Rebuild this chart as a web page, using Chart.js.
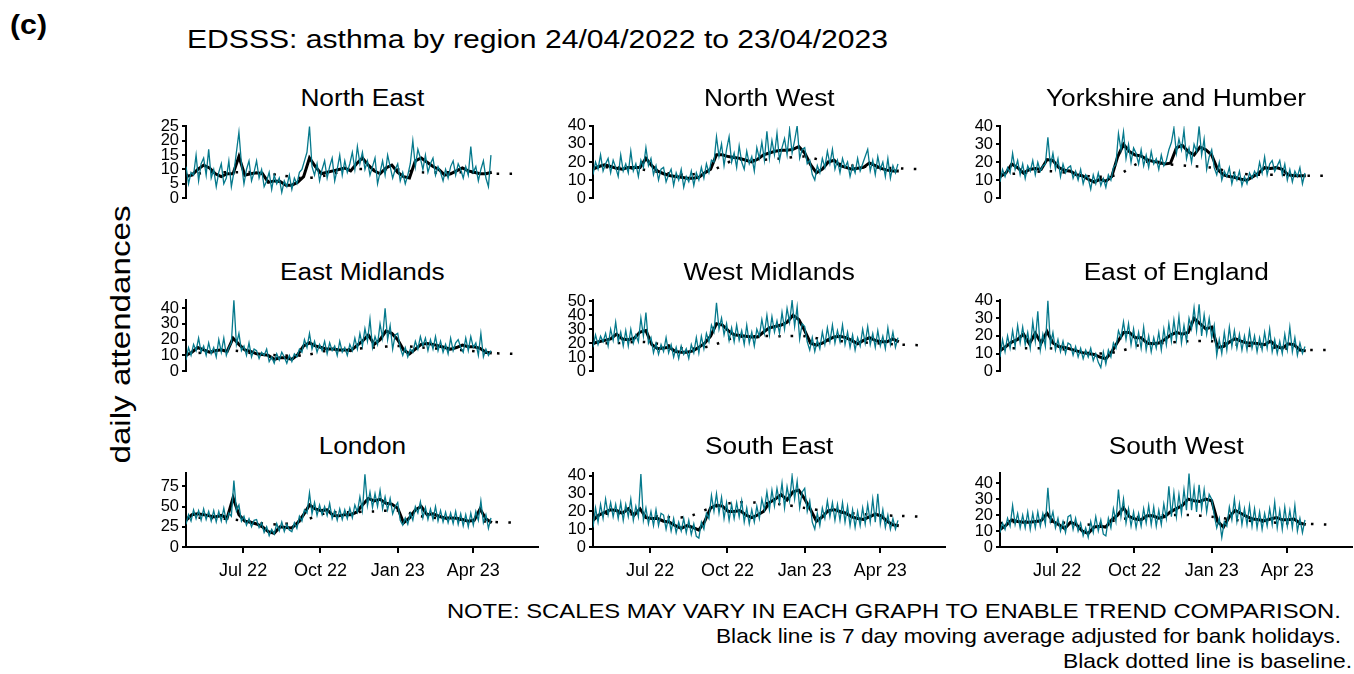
<!DOCTYPE html>
<html>
<head>
<meta charset="utf-8">
<title>EDSSS asthma by region</title>
<script src="https://cdn.jsdelivr.net/npm/chart.js@4.4.0/dist/chart.umd.min.js"></script>
<style>
  body { margin: 0; background: #fff; }
  #page { position: relative; width: 1354px; height: 674px; overflow: hidden;
          font-family: "Liberation Sans", Arial, sans-serif; color: #000; }
  #page canvas { position: absolute; }
  .txt { position: absolute; white-space: nowrap; line-height: 1; }
</style>
</head>
<body>
<div id="page"></div>
<script>
// regions, in reading order of the 3x3 grid
const REGIONS = ['North East', 'North West', 'Yorkshire and Humber',
                 'East Midlands', 'West Midlands', 'East of England',
                 'London', 'South East', 'South West'];

// x axis is days since 24/04/2022
const TICK_DAYS = [68, 160, 252, 342];
const TICK_LABELS = ['Jul 22', 'Oct 22', 'Jan 23', 'Apr 23'];
const TEAL_STEP = 3;   // daily counts, read every 3rd day
const MA_STEP = 7;     // 7 day moving average, read weekly
const BASE_STEP = 28;  // baseline, read every 4 weeks

const Y_MAX = [25.2, 40, 40.3, 45.3, 51, 40.5, 91.6, 41.7, 46.4];
const Y_STEP = [5, 10, 10, 10, 10, 10, 25, 10, 10];

// daily attendances
const tealNE = [11,5,9,8,15,6,12,14,8,17,7,10,4,9,
  12,5,7,13,4,9,16,23,12,5,10,13,6,9,
  13,7,10,4,6,9,3,8,5,7,2,6,4,8,
  3,7,5,9,10,13,16,25,11,8,12,6,10,13,
  7,11,14,6,10,15,8,13,9,12,16,10,18,12,
  16,10,13,8,11,14,5,9,13,8,15,11,7,10,
  12,6,9,5,8,12,20,11,17,14,10,15,9,12,
  14,8,11,9,6,10,7,11,13,8,12,10,7,11,
  8,18,9,11,6,10,13,7,4,15];
const tealNW = [13,20,16,24,15,19,22,14,21,17,12,24,15,19,
  14,26,15,19,12,21,17,28,18,22,13,18,10,16,
  17,9,13,16,7,14,10,16,6,12,9,15,7,14,
  10,17,11,19,14,21,20,34,23,30,18,27,34,20,
  25,17,29,20,16,26,19,23,15,28,22,31,21,37,
  22,32,24,36,21,28,33,24,38,25,32,40,22,27,
  28,19,21,13,10,18,14,22,17,26,19,27,16,21,
  14,22,17,20,12,18,14,22,15,19,23,27,15,21,
  13,23,16,20,12,22,11,18,14,19];
const tealYH = [9,16,12,17,14,25,16,21,13,19,11,18,15,21,
  13,20,15,18,19,34,18,25,16,22,12,19,14,17,
  18,11,15,10,16,8,13,11,5,13,8,14,7,11,
  6,13,10,17,19,36,27,37,22,30,20,28,25,19,
  27,18,24,17,26,19,22,16,24,18,21,27,31,39,
  25,33,27,38,22,28,20,30,26,40,24,33,16,23,
  27,17,13,20,10,15,12,17,8,14,10,15,7,12,
  8,14,11,15,12,20,14,23,13,19,21,15,18,21,
  13,19,10,16,9,15,12,17,8,14];
const tealEM = [7,15,10,17,13,21,12,16,10,18,11,15,9,20,
  12,21,10,15,18,45,17,24,13,16,10,18,9,14,
  13,8,12,10,14,6,9,5,11,7,12,9,5,10,
  6,11,9,14,12,20,15,24,14,19,12,17,13,19,
  11,18,13,16,10,19,12,15,10,17,13,21,14,24,
  16,27,19,33,15,22,17,30,21,40,20,29,14,23,
  24,15,10,15,9,14,12,19,14,22,16,21,13,20,
  14,22,13,19,12,17,11,21,13,18,20,15,12,21,
  13,22,15,18,10,24,9,14,10,13];
const tealWM = [17,26,19,25,21,27,18,30,22,35,21,28,18,29,
  18,30,20,26,21,38,25,42,20,24,13,20,12,19,
  14,24,13,19,10,17,9,18,12,16,9,19,13,24,
  13,25,16,27,21,33,28,49,30,38,26,34,22,31,
  21,33,22,29,19,33,20,28,18,30,25,37,27,40,
  26,39,28,36,27,42,30,45,35,50.5,32,46,23,34,
  32,21,15,24,14,22,16,28,19,31,21,33,20,29,
  21,33,19,28,17,26,15,24,18,30,20,32,19,27,
  17,29,18,25,16,31,19,28,17,24];
const tealEE = [8,18,11,20,13,23,14,26,16,25,15,22,13,28,
  17,34,12,21,14,40,15,22,12,18,11,17,10,16,
  15,9,14,8,13,7,12,8,13,6,10,5,2,11,
  4,12,8,16,13,23,19,28,18,27,15,24,14,22,
  13,25,12,20,11,19,13,22,12,24,15,27,17,29,
  18,31,16,26,17,30,24,36,23,38,20,32,21,30,
  19,26,9,18,10,22,12,25,14,23,13,21,12,20,
  12,23,13,20,11,19,12,22,13,24,11,18,10,17,
  10,21,12,25,11,19,9,16,10,14];
const tealLO = [28,40,32,46,35,45,33,47,34,44,32,45,31,44,
  32,48,31,42,38,82,45,52,32,38,27,35,25,33,
  34,24,30,18,25,14,22,16,29,20,31,19,28,21,
  19,30,23,38,32,46,42,67,41,55,39,52,40,50,
  39,54,35,45,33,47,34,46,35,48,36,52,43,62,
  45,90,51,68,49,66,50,70,47,62,46,60,41,50,
  55,33,27,36,28,42,33,50,42,56,36,49,34,47,
  34,50,32,45,31,43,30,42,29,44,28,41,26,40,
  25,42,27,44,33,57,30,40,23,36];
const tealSE = [11,22,14,24,16,27,18,25,17,24,16,25,15,24,
  17,27,15,23,17,41,15,22,13,20,12,21,12,19,
  18,10,17,9,16,8,14,9,16,8,15,7,13,6,
  5,14,10,19,16,29,20,30,19,28,16,25,15,24,
  16,25,17,26,14,22,13,21,14,23,16,27,21,31,
  21,32,23,33,25,36,22,34,26,40,27,37,22,31,
  33,20,26,14,10,19,12,22,16,26,17,25,15,24,
  15,25,14,23,12,21,11,20,12,22,13,24,14,27,
  14,30,13,21,11,18,10,16,10,15];
const tealSW = [9,15,11,18,13,26,14,21,12,20,12,22,11,21,
  12,22,13,21,14,37,16,22,12,18,10,16,9,19,
  20,11,18,10,15,7,12,6,16,9,19,10,17,8,
  7,18,12,24,16,36,19,30,15,24,13,22,12,21,
  13,24,15,26,14,25,13,23,14,27,18,38,19,34,
  19,33,21,36,23,46,23,37,22,39,24,36,22,33,
  30,20,12,18,6,16,13,25,17,30,16,27,14,24,
  14,26,13,24,12,22,11,21,13,24,14,28,12,23,
  11,25,13,23,12,26,10,18,9,17];

// 7 day moving average
const maNE = [7.5,8,10,11.5,10.5,8.5,7.5,8.5,8.5,14.5,8,8.5,8.8,8.5,5.5,6,5.8,4.5,4.5,5.5,7.5,14,11,8.5,9,9.5,10,10.5,9.5,12,14,11.5,9.5,8.5,10.5,11.5,9,7.5,7,13,14,12.5,11,10,8,8.5,9.5,10.5,9.5,9,8.5,8.5,9];
const maNW = [16,17.5,18.5,17.5,16.5,16,17,17,17,22,18,15,13.5,12.5,12,11.5,11,11,11.5,14,16,24,24,23,22.5,22,21,20,21.5,24,25,26,26.5,26.5,27,28.5,25,18.5,14,16,20,21,18,17,16,16.5,17,19.5,18,16.5,15.5,15,15];
const maYH = [12,14,19,17,14,16,16.5,16,21.5,21,17,15.5,15,13,12.5,10.5,9,10.5,9.5,12,23,30,26,24,23.5,21.5,20.5,20,19,19.5,28,29.5,26,24,28.5,27,24,16,13,12,11.5,10.5,10,12,14,17,16.5,17,16,13,12.5,12.5,12.5];
const maEM = [10,12,15,13.5,12,13,13.5,12.5,21,17,13.5,12.5,11,10.5,10,7.5,8.5,8.5,7.5,10.5,16,18,16,15,14,14,13.5,13.5,13,16,19,23,17,20,25.5,24,20,13.5,11,14,17,17.5,17,16,15,14,15,16.5,15.5,15.5,14.5,12,11.5];
const maWM = [20,21,22,23,26.5,23,22.5,23.5,28,29,19,16,16.5,17,14,13.5,13.5,14.5,17,20,25,34,33,29,26,25.5,25,24.5,24.5,28,31,32,33,35,40,37,29,20,18.5,20,22.5,24.5,25,24,22,19.5,22,24,22,21,21,23,21];
const maEE = [11.5,14,16.5,18,21,15.5,21.5,16,22.5,16,14,13.5,12.5,11.5,10.5,10,9.5,8,7,11,16.5,22,22,19,19,16,15.5,16,18,20.5,22,21,22,30,27,24,25,13.5,14,16.5,18.5,17,16,16,15.5,15,17,14,13,15.5,15,12,11.5];
const maLO = [33,40,41,40,38.5,37,39,36,61,40,32,30.5,28.5,25,19,17,25,24,23.5,30,40,52,47,45,46,39,38.5,40,40,43,52,60,57,59,54,53,48,30,36,46,50,40,41,38,36,36,35.5,34,32,33,47,35,30];
const maSE = [15,18,19.5,21,20.5,19,21.5,18,21.5,16.5,16,16,14.5,14,12,10.5,12,11,9.5,14.5,22,23.5,23,20,20,20.5,18,16.5,18,20,25,27,29.5,26.5,31,32,27,21,14.5,17,20.5,21,20,19,17,16,15.5,17,18.5,17.5,14.5,12.5,12];
const maSW = [11,13.5,17,16,15.5,15.5,16,16.5,21,16,14,11.5,15.5,14,10,8.5,12.5,13,12.5,17,20,24.5,19,17.5,17,19.5,19.5,18,19,22,24,26,30,29,28.5,30,29,16,12.5,19,23,21,19,17.5,17,16.5,17.5,18.5,17,17,17.5,15,14];

// baseline (runs a little past the data)
const baseNE = [8,9,9,9,8,7,8,10,10,10,9,9,9,8.5,8.5];
const baseNW = [17,17,16,14,13,15,21,21,22,23,20,18,17,16.5,16];
const baseYH = [13,14,15,14,12,13,20,19,18,17,14,13,13,12.5,12.5];
const baseEM = [11,12,13,11,10,10,13,14,15,16,15,14,13,11.5,11];
const baseWM = [20,20,21,19,16,18,24,25,25,25,22,21,20,19,18.5];
const baseEE = [13,13,13,12,10,11,15,16,17,17,15,14,13,12,12];
const baseLO = [36,36,34,30,28,33,42,43,44,45,38,35,33,31,30];
const baseSE = [18,19,18,17,17,22,25,25,24,22,20,19,18,17.5,17];
const baseSW = [15,16,16,15,14,17,19,20,20,19,17,16,15,14.5,14];

const TEAL = [tealNE, tealNW, tealYH, tealEM, tealWM, tealEE, tealLO, tealSE, tealSW];
const MA = [maNE, maNW, maYH, maEM, maWM, maEE, maLO, maSE, maSW];
const BASE = [baseNE, baseNW, baseYH, baseEM, baseWM, baseEE, baseLO, baseSE, baseSW];

// layout
const COL_X = [186, 593, 1000];
const ROW_TOP = [123, 297, 470];
const ROW_H = [78, 77, 77];
const TITLE_BASE = [106.7, 280, 454];
const PLOT_W = 352;
const X_MAX = 419;
const Y_AXIS_W = 60;
const PAD = 10;
const FONT = '"Liberation Sans", Arial, sans-serif';
const TEAL_COLOR = '#05798c';

const page = document.getElementById('page');

function addText(str, o) {
  const el = document.createElement('div');
  el.className = 'txt';
  el.textContent = str;
  el.style.fontSize = o.size + 'px';
  if (o.bold) el.style.fontWeight = 'bold';
  page.appendChild(el);
  const w = el.getBoundingClientRect().width;
  const sx = o.width ? o.width / w : (o.sx || 1);
  if (o.rotate) {
    el.style.left = (o.x - w / 2) + 'px';
    el.style.top = (o.y - o.size / 2) + 'px';
    el.style.transformOrigin = 'center center';
    el.style.transform = 'rotate(-90deg) scaleX(' + sx + ')';
    return;
  }
  el.style.top = (o.baseline - 0.8465 * o.size) + 'px';
  if (o.align === 'right') {
    el.style.left = (o.x - w) + 'px';
    el.style.transformOrigin = 'right center';
  } else if (o.align === 'center') {
    el.style.left = (o.x - w / 2) + 'px';
    el.style.transformOrigin = 'center center';
  } else {
    el.style.left = o.x + 'px';
    el.style.transformOrigin = 'left center';
  }
  el.style.transform = 'scaleX(' + sx + ')';
}

function makePanel(i) {
  const col = i % 3, row = Math.floor(i / 3);
  const bottom = row === 2;
  const xh = bottom ? 45 : 0;
  const padB = bottom ? 0 : PAD;
  const cv = document.createElement('canvas');
  cv.width = Y_AXIS_W + PLOT_W + PAD;
  cv.height = PAD + ROW_H[row] + xh + padB;
  cv.style.left = (COL_X[col] - Y_AXIS_W) + 'px';
  cv.style.top = (ROW_TOP[row] - PAD) + 'px';
  page.appendChild(cv);

  new Chart(cv, {
    type: 'line',
    data: {
      datasets: [
        {
          data: TEAL[i].map((v, k) => ({ x: k * TEAL_STEP, y: v })),
          borderColor: TEAL_COLOR, borderWidth: 1.3,
          pointRadius: 0, tension: 0, fill: false
        },
        {
          data: BASE[i].map((v, k) => ({ x: k * BASE_STEP, y: v })),
          borderColor: '#000', borderWidth: 2.5, borderDash: [2.5, 10],
          borderCapStyle: 'butt', pointRadius: 0, tension: 0.3, fill: false
        },
        {
          data: MA[i].map((v, k) => ({ x: k * MA_STEP, y: v })),
          borderColor: '#000', borderWidth: 3,
          pointRadius: 0, tension: 0, fill: false
        }
      ]
    },
    options: {
      responsive: false,
      animation: false,
      events: [],
      layout: { padding: { left: 0, right: PAD, top: PAD, bottom: padB } },
      plugins: { legend: { display: false }, tooltip: { enabled: false } },
      scales: {
        x: {
          type: 'linear', min: 0, max: X_MAX, display: bottom,
          afterBuildTicks: s => { s.ticks = TICK_DAYS.map(v => ({ value: v })); },
          afterFit: s => { s.height = xh; },
          ticks: {
            autoSkip: false, maxRotation: 0, color: '#000', padding: 7,
            font: { family: FONT, size: 18 },
            callback: v => TICK_LABELS[TICK_DAYS.indexOf(v)]
          },
          grid: { drawOnChartArea: false, tickLength: 6, color: '#000', lineWidth: 2 },
          border: { color: '#000', width: 2 }
        },
        y: {
          min: 0, max: Y_MAX[i],
          afterBuildTicks: s => {
            const t = [];
            for (let v = 0; v <= Y_MAX[i] + 1e-9; v += Y_STEP[i]) t.push({ value: v });
            s.ticks = t;
          },
          afterFit: s => { s.width = Y_AXIS_W; },
          ticks: { autoSkip: false, color: '#000', padding: 3, font: { family: FONT, size: 16.5 } },
          grid: { drawOnChartArea: false, tickLength: 4, color: '#000', lineWidth: 2 },
          border: { color: '#000', width: 2 }
        }
      }
    }
  });

  addText(REGIONS[i], { x: COL_X[col] + PLOT_W / 2, baseline: TITLE_BASE[row], size: 23, sx: 1.14, align: 'center' });
}

addText('(c)', { x: 10, baseline: 34.5, size: 27, bold: true, width: 37 });
addText('EDSSS: asthma by region 24/04/2022 to 23/04/2023', { x: 187, baseline: 48.5, size: 25, width: 701 });
addText('daily attendances', { x: 120.6, y: 334, size: 27, width: 258, rotate: true });

for (let i = 0; i < REGIONS.length; i++) makePanel(i);

addText('NOTE: SCALES MAY VARY IN EACH GRAPH TO ENABLE TREND COMPARISON.', { x: 1341, baseline: 618, size: 21, width: 894, align: 'right' });
addText('Black line is 7 day moving average adjusted for bank holidays.', { x: 1341, baseline: 643, size: 21, width: 625, align: 'right' });
addText('Black dotted line is baseline.', { x: 1352, baseline: 668, size: 21, width: 289, align: 'right' });
</script>
</body>
</html>
